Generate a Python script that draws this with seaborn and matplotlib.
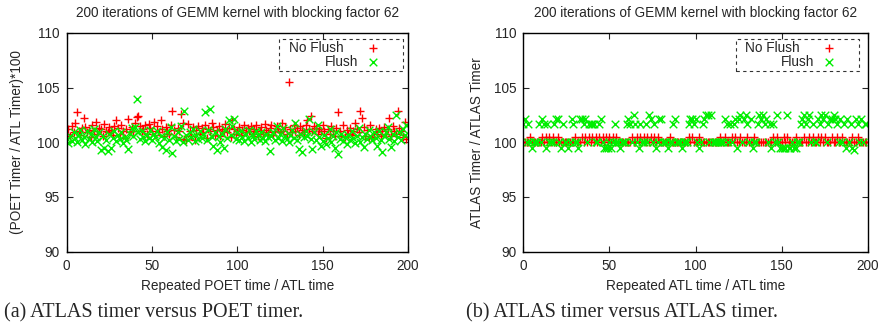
import matplotlib
matplotlib.use("Agg")
import matplotlib.pyplot as plt
import seaborn as sns
import pandas as pd

# ---- data ----
iterations = list(range(200))

poet_noflush = [
    100.8, 101.2, 100.6, 101.5, 100.9, 101.8, 102.8, 101.0, 100.7, 101.3,
    102.2, 101.4, 100.9, 101.1, 100.5, 101.6, 101.0, 101.9, 100.8, 101.3,
    101.2, 100.6, 101.7, 101.0, 100.9, 101.4, 101.1, 100.7, 101.5, 102.0,
    101.3, 100.8, 101.6, 101.0, 100.4, 101.2, 102.1, 100.9, 101.4, 101.0,
    101.8, 102.3, 102.4, 101.5, 101.0, 101.2, 101.6, 100.8, 101.7, 101.3,
    101.0, 101.9, 100.7, 101.5, 100.9, 102.0, 101.2, 100.6, 101.4, 101.0,
    100.8, 101.6, 102.9, 101.1, 100.5, 101.3, 101.0, 102.6, 101.8, 100.3,
    100.2, 101.7, 101.0, 100.6, 101.4, 100.2, 101.1, 101.5, 100.8, 101.3,
    100.9, 101.6, 100.4, 101.2, 101.0, 101.8, 101.4, 100.7, 101.1, 101.5,
    100.6, 101.2, 101.0, 101.7, 100.9, 101.3, 100.5, 102.0, 101.2, 100.8,
    101.0, 101.4, 100.7, 101.1, 101.6, 100.9, 101.3, 101.0, 101.5, 100.8,
    101.2, 101.6, 100.6, 101.0, 101.4, 100.8, 101.7, 101.1, 100.9, 101.3,
    101.6, 100.7, 101.0, 101.5, 101.2, 100.9, 101.8, 101.0, 101.4, 100.8,
    105.5, 101.2, 100.9, 101.6, 101.0, 101.3, 100.7, 101.5, 101.1, 100.9,
    101.6, 102.0, 101.2, 102.4, 101.0, 101.5, 101.3, 100.8, 101.2, 101.0,
    101.6, 101.0, 100.4, 101.2, 100.8, 101.5, 101.0, 100.6, 101.3, 102.8,
    101.0, 100.6, 101.6, 100.5, 101.1, 100.8, 101.3, 100.7, 101.0, 101.8,
    101.2, 100.9, 102.9, 102.2, 101.4, 100.6, 101.1, 100.4, 101.6, 100.5,
    100.5, 101.2, 100.8, 101.3, 100.6, 101.0, 101.4, 100.8, 101.2, 102.2,
    100.6, 101.5, 101.0, 100.8, 102.9, 101.3, 101.0, 100.5, 101.9, 100.3,
]

poet_flush = [
    100.3, 99.9, 100.6, 100.1, 100.9, 100.4, 100.0, 100.7, 101.1, 100.2,
    100.5, 99.8, 101.0, 100.3, 100.8, 100.0, 101.2, 100.5, 100.1, 100.9,
    99.3, 100.6, 99.5, 100.2, 99.2, 100.8, 99.5, 100.4, 101.0, 100.1,
    100.7, 100.3, 100.9, 99.9, 100.5, 100.2, 99.4, 100.8, 101.3, 100.6,
    101.4, 104.0, 100.9, 100.3, 101.0, 100.5, 100.1, 100.7, 100.4, 101.1,
    100.2, 100.8, 100.5, 101.0, 99.9, 100.6, 99.6, 100.4, 99.3, 100.9,
    100.2, 101.4, 99.0, 100.6, 100.1, 100.9, 100.3, 101.5, 100.0, 102.9,
    100.7, 100.2, 100.9, 100.5, 101.2, 100.1, 100.7, 100.3, 101.0, 100.4,
    100.8, 102.8, 100.2, 101.1, 103.0, 100.5, 99.7, 100.9, 99.3, 100.6,
    100.0, 100.8, 99.5, 101.2, 100.4, 102.0, 100.7, 101.5, 102.1, 100.3,
    100.9, 100.2, 101.0, 100.5, 100.1, 100.8, 100.4, 101.1, 100.0, 100.6,
    100.3, 101.0, 100.7, 100.2, 100.9, 100.4, 100.1, 100.8, 100.5, 99.2,
    100.6, 100.9, 100.2, 101.5, 100.4, 100.8, 100.1, 101.3, 100.6, 100.3,
    100.0, 100.7, 101.1, 100.4, 101.8, 100.2, 99.4, 100.8, 99.1, 100.5,
    101.0, 100.6, 102.1, 100.3, 99.4, 100.9, 100.2, 101.6, 100.5, 99.7,
    100.1, 100.7, 99.8, 100.4, 101.2, 100.0, 100.6, 99.5, 100.9, 98.9,
    100.3, 100.8, 100.1, 100.5, 99.8, 100.7, 100.2, 101.0, 100.4, 99.9,
    100.6, 101.3, 100.0, 100.5, 99.6, 100.8, 100.3, 101.1, 100.6, 100.2,
    100.9, 100.4, 99.7, 101.0, 100.2, 99.1, 100.6, 100.9, 101.4, 100.3,
    99.6, 100.8, 100.1, 102.5, 100.5, 100.9, 100.2, 101.2, 100.7, 101.6,
]

atlas_noflush = [
    100, 100, 100, 100, 100.5, 100, 100, 100, 100, 100, 100, 100.5, 100, 100.5, 100, 100.5, 100, 100.5, 100, 100,
    100.5, 100, 100, 100, 100, 100, 100, 100, 100, 100, 100.5, 100, 100, 100, 100.5, 100, 100.5, 100, 100.5, 100,
    100.5, 100, 100.5, 100, 100.5, 100, 100.5, 100, 100.5, 100, 100.5, 100, 100.5, 100, 100.5, 100, 100, 100, 100, 100,
    100, 100, 100, 100.5, 100, 100, 100.5, 100, 100.5, 100, 100.5, 100, 100.5, 100, 100.5, 100, 100.5, 100, 100.5, 100,
    100, 100, 100, 100, 100, 100.5, 100, 100, 100, 100, 100, 100, 100, 100, 100, 100, 100.5, 100, 100.5, 100,
    100, 100, 100.5, 100, 100, 100, 100, 100, 100, 100, 100, 100, 100, 100, 100.5, 100, 100, 100.5, 100, 100,
    100, 100.5, 100, 100.5, 100, 100, 100.5, 100, 100, 100, 100.5, 100, 100, 100, 100.5, 100, 100, 100, 100, 100,
    100, 100, 100, 100, 100, 100.5, 100, 100.5, 100, 100, 100, 100.5, 100, 100.5, 100, 100, 100, 100, 100.5, 100,
    100, 100, 100, 100.5, 100, 100, 100.5, 100, 100.5, 100, 100, 100.5, 100, 100.5, 100, 100.5, 100, 100, 100, 100.5,
    100, 100, 100.5, 100, 100, 100.5, 100, 100, 100, 100, 100, 100.5, 100, 100, 100.5, 100, 100, 100, 100, 100,
]

atlas_flush = [
    101.7, 102.1, 100, 101.7, 100, 99.5, 100, 100, 100, 101.7, 100, 102.1, 101.7, 99.5, 101.7, 100, 100, 100, 101.7, 102.1,
    102.1, 100, 99.5, 101.7, 100, 100, 99.5, 100, 102.1, 101.7, 100, 100, 99.5, 102.1, 102.1, 101.7, 102.1, 100, 101.7, 101.7,
    101.7, 101.7, 100, 100, 101.7, 102.1, 100, 99.5, 99.5, 99.5, 100, 99.5, 100, 101.7, 100, 100, 99.5, 100, 100, 100,
    101.7, 102.1, 101.7, 100, 102.5, 101.7, 100, 99.5, 101.7, 100, 100, 101.7, 100, 102.5, 102.1, 100, 101.7, 99.5, 100, 102.1,
    102.1, 100, 100, 100, 99.5, 100, 100, 101.7, 102.1, 100, 100, 100, 99.5, 100, 100, 100, 101.7, 102.1, 102.1, 101.7,
    102.1, 100, 99.5, 100, 101.7, 102.1, 102.5, 102.5, 100, 102.5, 100, 100, 100, 100, 100, 100, 100, 102.1, 101.7, 100,
    101.7, 100, 101.7, 102.1, 99.5, 102.1, 102.5, 100, 102.1, 102.5, 101.7, 100, 102.1, 99.5, 100, 100, 101.7, 102.5, 102.1, 102.5,
    101.7, 102.1, 100, 101.7, 99.5, 101.7, 100, 102.5, 100, 99.5, 99.5, 99.5, 99.5, 102.5, 99.5, 99.5, 100, 99.5, 99.5, 100,
    100, 101.7, 102.1, 102.5, 101.7, 102.1, 102.5, 100, 101.7, 100, 100, 102.1, 101.7, 102.5, 102.1, 102.5, 100, 101.7, 102.1, 102.1,
    102.5, 102.1, 101.7, 100, 102.1, 100, 101.7, 99.5, 102.1, 100, 101.7, 99.5, 99.3, 102.1, 101.7, 100, 102.1, 100, 101.7, 101.7,
]

title = "200 iterations of GEMM kernel with blocking factor 62"
xlabels = ["Repeated POET time / ATL time", "Repeated ATL time / ATL time"]
ylabels = ["(POET Timer / ATL Timer)*100", "ATLAS Timer / ATLAS Timer"]
captions = ["(a) ATLAS timer versus POET timer.", "(b) ATLAS timer versus ATLAS timer."]
xticks = [0, 50, 100, 150, 200]
yticks = [90, 95, 100, 105, 110]

sns.set_style("ticks")
plt.rcParams["font.family"] = ["Liberation Sans", "DejaVu Sans"]

FS = 9.8
fig = plt.figure(figsize=(8.82, 3.31), dpi=100)
ax_a = fig.add_axes([0.0756, 0.2396, 0.387, 0.661])
ax_b = fig.add_axes([0.5933, 0.2396, 0.3908, 0.661])

panels = [
    (ax_a, poet_noflush, poet_flush, xlabels[0], ylabels[0], -0.125, 0.985),
    (ax_b, atlas_noflush, atlas_flush, xlabels[1], ylabels[1], -0.114, 0.974),
]

for ax, nf, fl, xl, yl, ypos, legx in panels:
    df = pd.DataFrame({"it": iterations, "noflush": nf, "flush": fl})
    sns.scatterplot(data=df, x="it", y="noflush", ax=ax, marker="+", color="#ff0000",
                    s=36, linewidth=1.0, label="No Flush")
    sns.scatterplot(data=df, x="it", y="flush", ax=ax, marker="x", color="#00ee00",
                    s=30, linewidth=1.0, label="Flush")
    ax.set_xlim(0, 200)
    ax.set_ylim(90, 110)
    ax.set_xticks(xticks)
    ax.set_yticks(yticks)
    ax.tick_params(direction="in", top=True, right=True, length=4, width=0.8,
                   labelsize=FS, pad=5)
    for sp in ax.spines.values():
        sp.set_linewidth(1.0)
        sp.set_color("black")
    ax.set_xlabel(xl, fontsize=FS)
    ax.set_ylabel(yl, fontsize=FS)
    ax.xaxis.set_label_coords(0.5, -0.125)
    ax.yaxis.set_label_coords(ypos, 0.5)
    ax.text(0.5, 1.09, title, transform=ax.transAxes, ha="center", va="center", fontsize=FS)

    leg = ax.legend(loc="upper right", markerfirst=False, fontsize=FS, frameon=True,
                    fancybox=False, borderpad=0.15, labelspacing=0.0, handletextpad=0.66,
                    handlelength=4.1, borderaxespad=0.0, bbox_to_anchor=(legx, 0.9726))
    fr = leg.get_frame()
    fr.set_linestyle((0, (3, 3)))
    fr.set_edgecolor("black")
    fr.set_linewidth(0.8)
    leg.set_zorder(5)

# right-align the legend texts (gnuplot style) and push them a little right
fig.canvas.draw()
px2pt = 72.0 / fig.dpi
for ax in (ax_a, ax_b):
    leg = ax.get_legend()
    texts = leg.get_texts()
    widest = max(t.get_window_extent().width for t in texts)
    for t in texts:
        shift = widest - t.get_window_extent().width + 10
        t.set_position((shift * px2pt, 0))

fig.text(0.004, 0.054, captions[0], fontsize=14.5, family=["Liberation Serif", "DejaVu Serif"],
         va="center", ha="left")
fig.text(0.528, 0.054, captions[1], fontsize=14.5, family=["Liberation Serif", "DejaVu Serif"],
         va="center", ha="left")

fig.savefig("out.png", dpi=100)
